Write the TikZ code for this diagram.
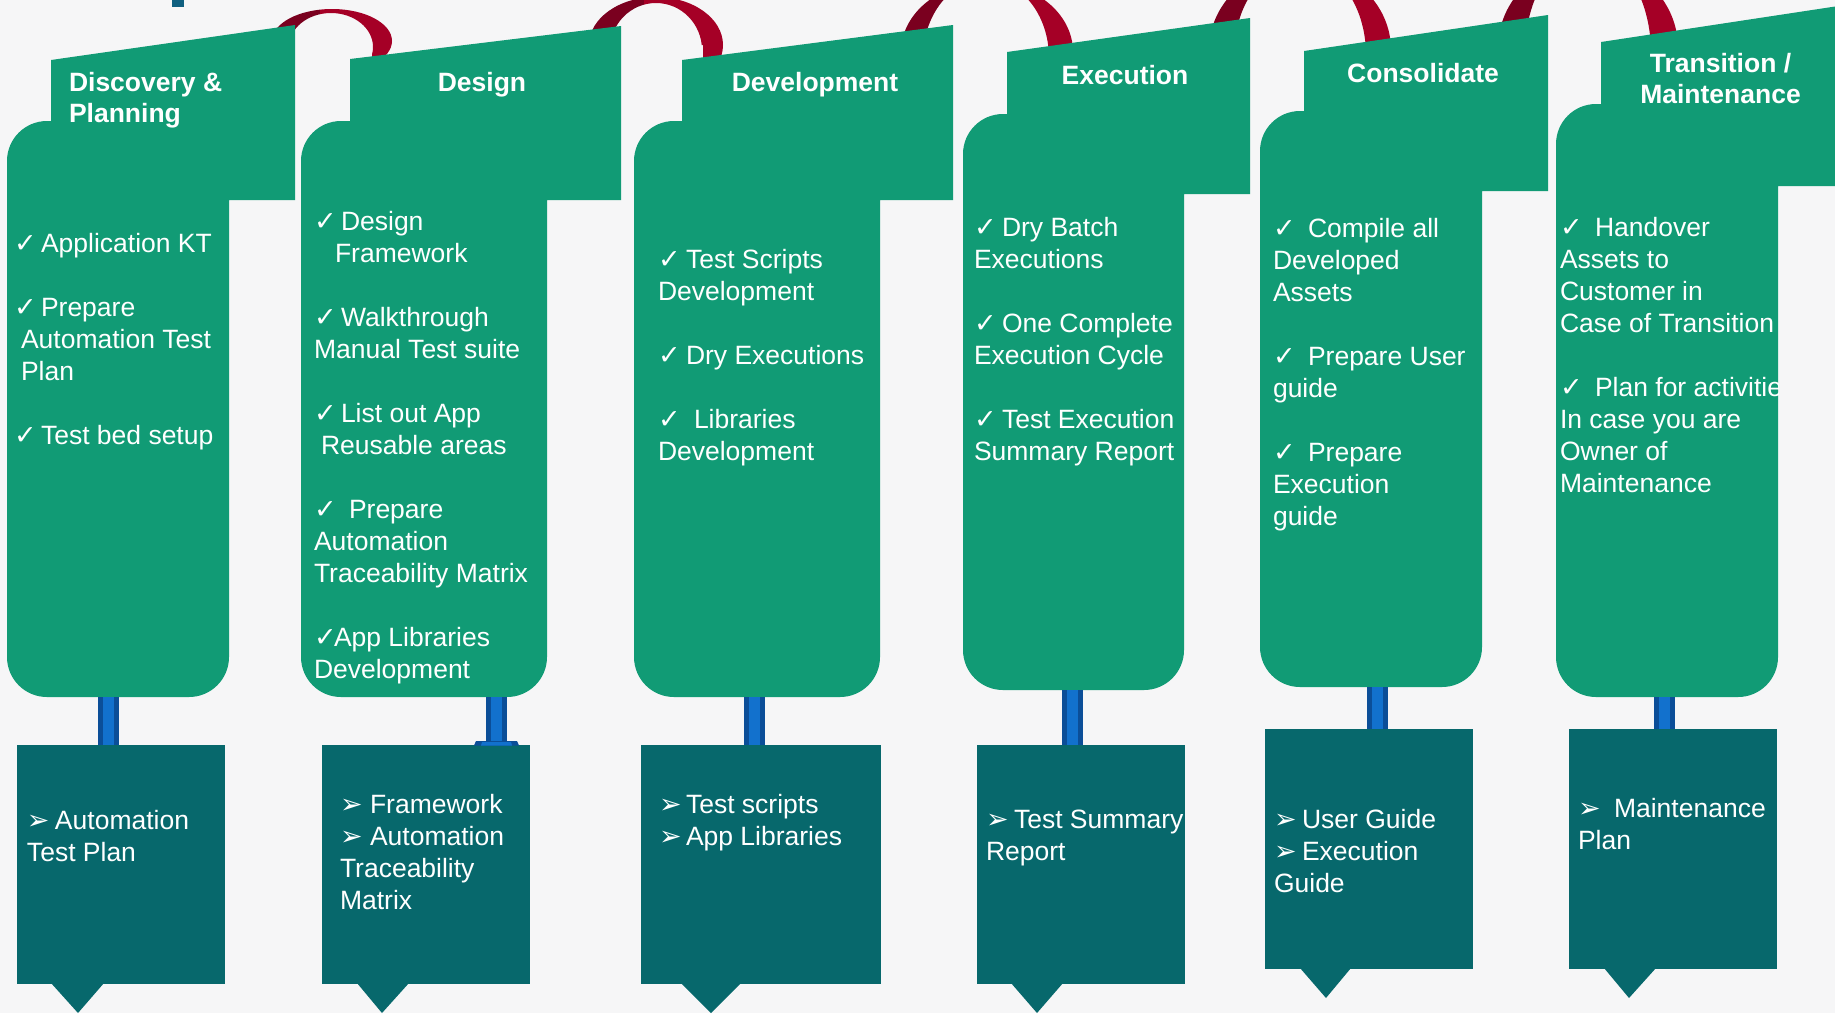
\documentclass[tikz,border=0pt]{standalone}
\usepackage{fontspec}
\setmainfont{Liberation Sans}
\newfontfamily\dejavu{DejaVu Sans}
\definecolor{bgc}{RGB}{246,246,247}
\definecolor{stepgreen}{RGB}{17,155,117}
\definecolor{outteal}{RGB}{7,104,108}
\definecolor{ringred}{RGB}{165,0,38}
\definecolor{ringdark}{RGB}{122,0,31}
\definecolor{barblue}{RGB}{18,113,205}
\definecolor{bardark}{RGB}{11,78,152}
\definecolor{titlebar}{RGB}{16,96,128}
\newcommand\chk[1][27]{\makebox[#1pt][l]{\dejavu\fontsize{27}{32}\selectfont ✓}}
\newcommand\arw[1][27]{\makebox[#1pt][l]{\dejavu\fontsize{27}{32}\selectfont ➢}}
% cx cy rx ry cx2 cy2 rx2 ry2
\newcommand\redring[8]{%
 \begin{scope}
  \clip (#1-#3-6,#2-#4-80) rectangle (#1+#3+6,#2)
        (#1-#3-6,#2) rectangle (#1-#3+20,#2+45)
        (#1+#3-20,#2) rectangle (#1+#3+6,#2+45);
  \begin{scope}
   \clip (#1-#3-10,-200) rectangle (#1-12,300);
   \fill[ringdark,even odd rule] (#1,#2) ellipse [x radius=#3,y radius=#4] (#5,#6) ellipse [x radius=#7,y radius=#8];
  \end{scope}
  \begin{scope}
   \clip (#1-12,-200) rectangle (#1+#3+10,300);
   \fill[ringred,even odd rule] (#1,#2) ellipse [x radius=#3,y radius=#4] (#5,#6) ellipse [x radius=#7,y radius=#8];
  \end{scope}
 \end{scope}}
% fl tl fr tr fb bl br bt bb
\newcommand\stepcol[9]{%
 \fill[stepgreen] (#1,#2) -- (#3,#4) -- (#3,#5) -- (#7,#5) -- (#7,#9-40)
   arc[start angle=0,end angle=90,radius=40] -- (#6+40,#9)
   arc[start angle=90,end angle=180,radius=40] -- (#6,#8+40)
   arc[start angle=180,end angle=270,radius=40] -- (#1,#8) -- cycle;}
\tikzset{
  bodytext/.style={anchor=north west, inner sep=0pt, outer sep=0pt, text=white, align=left,
    font=\fontsize{26.5}{32}\selectfont},
  headtext/.style={inner sep=0pt, outer sep=0pt, text=white,
    font=\fontsize{26.5}{31}\selectfont\bfseries},
  outbox/.style={fill=outteal, inner sep=0pt, outer sep=0pt, anchor=north west},
  linkbar/.style={draw=bardark, double=barblue, double distance=11pt, line width=5pt},
}
\begin{document}
\begin{tikzpicture}[x=1pt,y=-1pt]
\useasboundingbox (0,0) rectangle (1835,1013);
\fill[bgc] (0,0) rectangle (1835,1013);
\fill[titlebar] (172,-1) rectangle (184,7);
% rings
\redring{332}{41}{60}{32}{331}{47}{42}{34}
\redring{656}{45}{67}{48}{656}{50}{46}{47}
\redring{987}{52}{86}{70}{986}{58}{63}{78.6}
\redring{1300}{50}{91}{84.7}{1300}{55}{66}{90.7}
\redring{1588}{48}{90}{86.8}{1588}{53}{63}{100}
% columns
\stepcol{51}{60}{295}{25}{200}{7}{229}{121}{697}
\stepcol{350}{59}{621}{26}{200}{301}{547}{121}{697}
\stepcol{682}{60}{953}{25}{200}{634}{880}{121}{697}
\stepcol{1007}{52}{1250}{18}{194}{963}{1184}{114}{690}
\stepcol{1304}{51}{1548}{15}{191}{1260}{1482}{111}{687}
\stepcol{1601}{42}{1845}{5}{186}{1556}{1778}{104}{697}
% connector start points
\coordinate (b1) at (108.5,697);
\coordinate (b2) at (496.5,697);
\coordinate (b3) at (754.5,697);
\coordinate (b4) at (1072.5,690);
\coordinate (b5) at (1377,687);
\coordinate (b6) at (1664.5,697);
% output boxes
\node[outbox, minimum width=208pt, minimum height=239pt] (o1) at (17,745) {};
\node[outbox, minimum width=208pt, minimum height=239pt] (o2) at (322,745) {};
\node[outbox, minimum width=240pt, minimum height=239pt] (o3) at (641,745) {};
\node[outbox, minimum width=208pt, minimum height=239pt] (o4) at (977,745) {};
\node[outbox, minimum width=208pt, minimum height=240pt] (o5) at (1265,729) {};
\node[outbox, minimum width=208pt, minimum height=240pt] (o6) at (1569,729) {};
% connectors
\draw[linkbar] (b1) -- (b1 |- o1.north);
\draw[linkbar] (b2) -- (b2 |- o2.north);
\fill[bardark] (476,741) -- (517,741) -- (519,745.5) -- (474,745.5) -- cycle;
\fill[barblue] (482,742) -- (511,742) -- (512,745.5) -- (481,745.5) -- cycle;
\draw[linkbar] (b3) -- (b3 |- o3.north);
\draw[linkbar] (b4) -- (b4 |- o4.north);
\draw[linkbar] (b5) -- (b5 |- o5.north);
\draw[linkbar] (b6) -- (b6 |- o6.north);
% pointers
\fill[outteal] (51,983) -- (78,1013) -- (104,983) -- cycle;
\fill[outteal] (357,983) -- (382,1013) -- (409,983) -- cycle;
\fill[outteal] (681,983) -- (711,1013) -- (741,983) -- cycle;
\fill[outteal] (1011,983) -- (1037,1013) -- (1063,983) -- cycle;
\fill[outteal] (1300,968) -- (1326,998) -- (1351,968) -- cycle;
\fill[outteal] (1604,968) -- (1629,998) -- (1656,968) -- cycle;
% headers
\node[headtext, anchor=north west, align=left] (h1) at (69,69.3) {\strut Discovery \&\\\strut Planning};
\node[headtext, anchor=base] (h2) at (482,91) {Design};
\node[headtext, anchor=base] (h3) at (815,91) {Development};
\node[headtext, anchor=base] (h4) at (1125,84) {Execution};
\node[headtext, anchor=base] (h5) at (1423,82) {Consolidate};
\node[headtext, anchor=north, align=center] (h6) at (1720.5,50.3) {\strut Transition /\\\strut Maintenance};
% body texts
\node[bodytext] (t1) at (14,229.6) {\strut\chk Application KT\\\strut\\\strut\chk Prepare\\\strut\hspace*{7pt}Automation Test\\\strut\hspace*{7pt}Plan\\\strut\\\strut\chk Test bed setup};
\node[bodytext] (t2) at (314,207.6) {\strut\chk Design\\\strut\hspace*{21pt}Framework\\\strut\\\strut\chk Walkthrough\\\strut Manual Test suite\\\strut\\\strut\chk List out App\\\strut\hspace*{7pt}Reusable areas\\\strut\\\strut\chk[35]Prepare\\\strut Automation\\\strut Traceability Matrix\\\strut\\\strut\chk[20]App Libraries\\\strut Development};
\node[bodytext] (t3) at (658,245.6) {\strut\chk[28]Test Scripts\\\strut Development\\\strut\\\strut\chk[28]Dry Executions\\\strut\\\strut\chk[36]Libraries\\\strut Development};
\node[bodytext] (t4) at (974,213.6) {\strut\chk[28]Dry Batch\\\strut Executions\\\strut\\\strut\chk[28]One Complete\\\strut Execution Cycle\\\strut\\\strut\chk[28]Test Execution\\\strut Summary Report};
\node[bodytext] (t5) at (1273,214.6) {\strut\chk[35]Compile all\\\strut Developed\\\strut Assets\\\strut\\\strut\chk[35]Prepare User\\\strut guide\\\strut\\\strut\chk[35]Prepare\\\strut Execution\\\strut guide};
\begin{scope}
\clip (1556,0) rectangle (1778,697);
\node[bodytext] (t6) at (1560,213.6) {\strut\chk[35]Handover\\\strut Assets to\\\strut Customer in\\\strut Case of Transition\\\strut\\\strut\chk[35]Plan for activities\\\strut In case you are\\\strut Owner of\\\strut Maintenance};
\end{scope}
% output texts
\node[bodytext] (u1) at (27,806.6) {\strut\arw[28]Automation\\\strut Test Plan};
\node[bodytext] (u2) at (340,790.6) {\strut\arw[30]Framework\\\strut\arw[30]Automation\\\strut Traceability\\\strut Matrix};
\node[bodytext] (u3) at (659,790.6) {\strut\arw Test scripts\\\strut\arw App Libraries};
\begin{scope}
\clip (977,745) rectangle (1185,984);
\node[bodytext] (u4) at (986,805.6) {\strut\arw[28]Test Summary\\\strut Report};
\end{scope}
\node[bodytext] (u5) at (1274,805.6) {\strut\arw[28]User Guide\\\strut\arw[28]Execution\\\strut Guide};
\node[bodytext] (u6) at (1578,794.6) {\strut\arw[36]Maintenance\\\strut Plan};
\end{tikzpicture}
\end{document}
